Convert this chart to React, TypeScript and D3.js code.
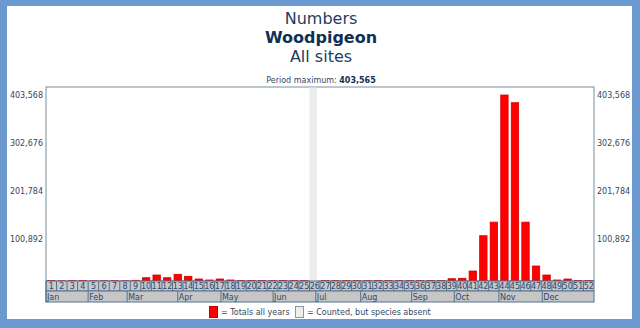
import React from "react";
import * as d3 from "d3";

const titleLines = ["Numbers", "Woodpigeon", "All sites"];
const periodMaxLabel = "Period maximum: ";
const periodMaxValue = "403,565";

const weeks: number[] = d3.range(1, 53);
// weekly totals (null = counted, but species absent)
const values: (number | null)[] = [
  13500, 13000, 13500, 13800, 13000, 13200, 13400, 13000, 14000,
  19500, 25200, 19500, 26700, 22500, 16800, 14700, 16800, 14700,
  13800, 13500, 13500, 13400, 13600, 13500, 13400, null,
  13500, 13400, 13600, 13500, 13400, 13500, 13600, 13400, 13500, 13400, 13600, 13500,
  17400, 18300, 33600, 107800, 136300, 403565, 387400, 136300, 44100, 25200, 14700, 16800, 13800, 13600,
];

const yTicks = [100892, 201784, 302676, 403568];
const yMax = 403568;

const months = ["Jan", "Feb", "Mar", "Apr", "May", "Jun", "Jul", "Aug", "Sep", "Oct", "Nov", "Dec"];
// month start positions, in weeks from the start of the year
const monthStarts = [0, 4.0, 7.7, 12.5, 16.6, 21.55, 25.6, 29.86, 34.7, 38.74, 42.98, 47.09, 52];

const legendItems = ["= Totals all years", "= Counted, but species absent"];

export default function App() {
  const W = 640, H = 328;
  const left = 46, right = 594, top = 87, rowTop = 281, rowMid = 291, rowBot = 302;
  const font = "'DejaVu Sans', Verdana, sans-serif";
  const textCol = "#34485f";
  const gridCol = "#56708c";

  const x = d3.scaleBand<number>().domain(weeks).range([left, right]).padding(0);
  const step = x.step();
  const barW = step * 0.7;
  const y = d3.scaleLinear().domain([0, yMax]).range([287, 95]);
  const wx = d3.scaleLinear().domain([0, 52]).range([left, right]);

  return (
    <svg width={W} height={H} style={{ position: "fixed", left: 0, top: 0 }} fontFamily={font}>
      <rect x={0} y={0} width={W} height={H} fill="#6a9ad0" />
      <rect x={7} y={6} width={625} height={313} fill="#ffffff" />
      {/* titles */}
      <text x={321} y={24} textAnchor="middle" fontSize={16} fill="#1f3d5e">{titleLines[0]}</text>
      <text x={321} y={43} textAnchor="middle" fontSize={16} fontWeight="bold" fill="#0f2f55">{titleLines[1]}</text>
      <text x={321} y={62} textAnchor="middle" fontSize={16} fill="#1f3d5e">{titleLines[2]}</text>
      <text x={321} y={83} textAnchor="middle" fontSize={8} fill={textCol}>
        {periodMaxLabel}
        <tspan fontWeight="bold" fill="#0f2f55">{periodMaxValue}</tspan>
      </text>

      {/* plot frame */}
      <rect x={left} y={top} width={right - left} height={rowTop - top} fill="#ffffff" stroke="#7d8c9c" strokeWidth={1} />

      {/* absent weeks */}
      {weeks.map((w, i) =>
        values[i] === null ? (
          <rect key={"a" + w} x={(x(w) as number) + (step - barW) / 2 - 1.5} y={top + 0.5} width={barW} height={rowTop - top - 0.5} fill="#ebebeb" />
        ) : null
      )}

      {/* bars */}
      {weeks.map((w, i) => {
        const v = values[i];
        if (v === null) return null;
        const bx = (x(w) as number) + (step - barW) / 2;
        return (
          <rect key={"b" + w} x={bx} y={y(v)} width={barW} height={y(0) - y(v)} fill="#ff0000" stroke="#d40000" strokeWidth={0.8} />
        );
      })}

      {/* y axis labels */}
      {yTicks.map((t) => (
        <g key={"t" + t}>
          <text x={43} y={y(t) + 3} textAnchor="end" fontSize={8} fill={textCol}>{d3.format(",")(t)}</text>
          <text x={597} y={y(t) + 3} textAnchor="start" fontSize={8} fill={textCol}>{d3.format(",")(t)}</text>
        </g>
      ))}

      {/* week row */}
      <rect x={left} y={rowTop} width={right - left} height={rowMid - rowTop} fill="#c6c8cb" stroke={gridCol} strokeWidth={1} />
      {weeks.map((w) => (
        <g key={"w" + w}>
          <line x1={x(w) as number} x2={x(w) as number} y1={rowTop} y2={rowMid} stroke={gridCol} strokeWidth={1} />
          <text x={(x(w) as number) + step / 2} y={rowMid - 2} textAnchor="middle" fontSize={8} fill="#2b4a6e">{w}</text>
        </g>
      ))}

      {/* month row */}
      <rect x={left} y={rowMid} width={right - left} height={rowBot - rowMid} fill="#c6c6c6" stroke={gridCol} strokeWidth={1} />
      {months.map((m, i) => (
        <g key={m}>
          <line x1={wx(monthStarts[i])} x2={wx(monthStarts[i])} y1={rowMid} y2={rowBot} stroke={gridCol} strokeWidth={1} />
          <text x={wx(monthStarts[i]) + 1} y={rowBot - 2} fontSize={8} fill="#2b4a6e">{m}</text>
        </g>
      ))}

      {/* legend */}
      <rect x={209.5} y={306.5} width={8} height={11} fill="#ff0000" stroke="#c00000" strokeWidth={1} />
      <text x={221} y={314.5} fontSize={8} fill={textCol}>{legendItems[0]}</text>
      <rect x={295.5} y={306.5} width={8} height={11} fill="#eeeeee" stroke="#8a96a4" strokeWidth={1} />
      <text x={307} y={314.5} fontSize={8} fill={textCol}>{legendItems[1]}</text>
    </svg>
  );
}
